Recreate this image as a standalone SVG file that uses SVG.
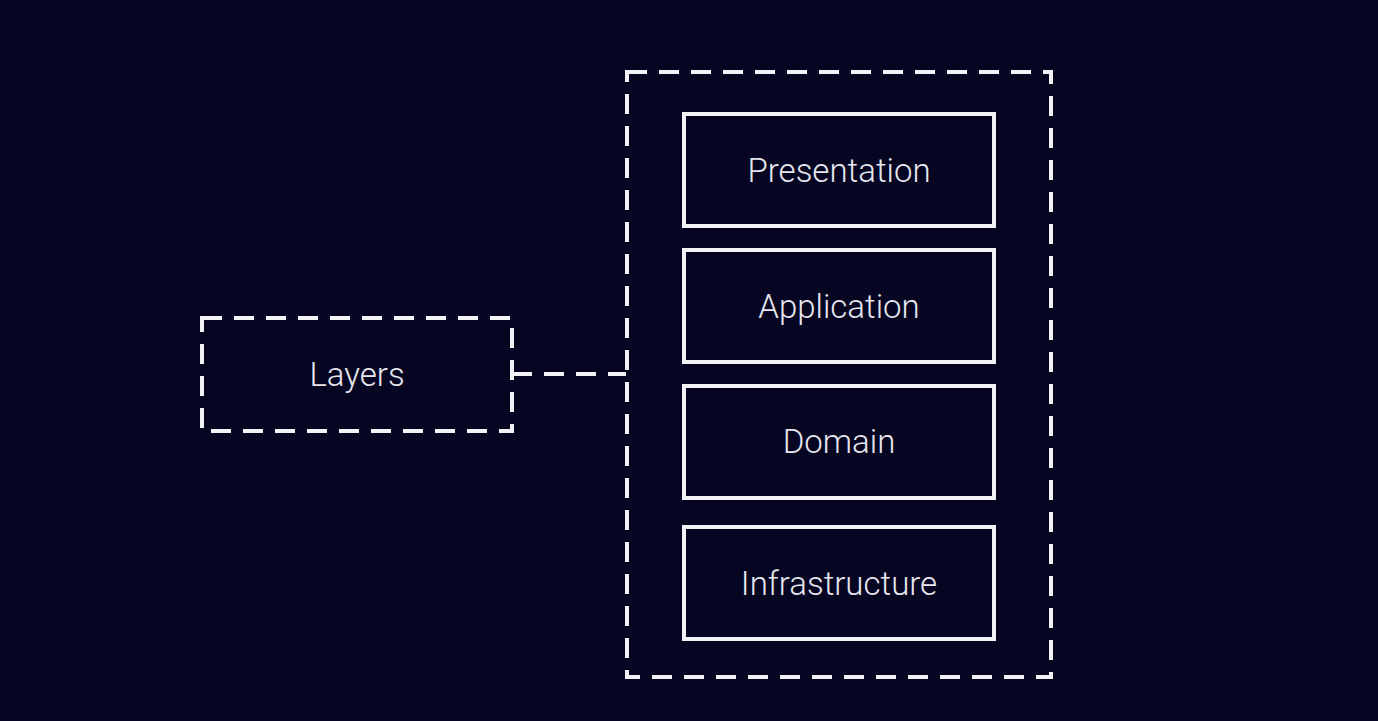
<svg xmlns="http://www.w3.org/2000/svg" width="1378" height="721" viewBox="0 0 1378 721">
<style>
.dash{fill:none;stroke:#f2f2f7;stroke-width:4;stroke-dasharray:20 12}
.box{fill:none;stroke:#f2f2f7;stroke-width:4}
.lbl{font-family:Roboto,"Liberation Sans",sans-serif;font-weight:300;font-size:33px;fill:#e6e6ee;text-anchor:middle}
</style>
<rect width="1378" height="721" fill="#060623"/>
<g id="connectors">
<path class="dash" d="M512 374 H626"/>
</g>
<g id="layers">
<rect class="dash" x="202" y="318" width="310" height="113"/>
<text class="lbl" x="357" y="386">Layers</text>
</g>
<g id="container">
<rect class="dash" x="627" y="72" width="424" height="605"/>
</g>
<g id="presentation">
<rect class="box" x="684" y="114" width="310" height="112"/>
<text class="lbl" x="839" y="182">Presentation</text>
</g>
<g id="application">
<rect class="box" x="684" y="250" width="310" height="112"/>
<text class="lbl" x="839" y="318">Application</text>
</g>
<g id="domain">
<rect class="box" x="684" y="386" width="310" height="112"/>
<text class="lbl" x="839" y="453">Domain</text>
</g>
<g id="infrastructure">
<rect class="box" x="684" y="527" width="310" height="112"/>
<text class="lbl" x="839" y="595">Infrastructure</text>
</g>
</svg>
